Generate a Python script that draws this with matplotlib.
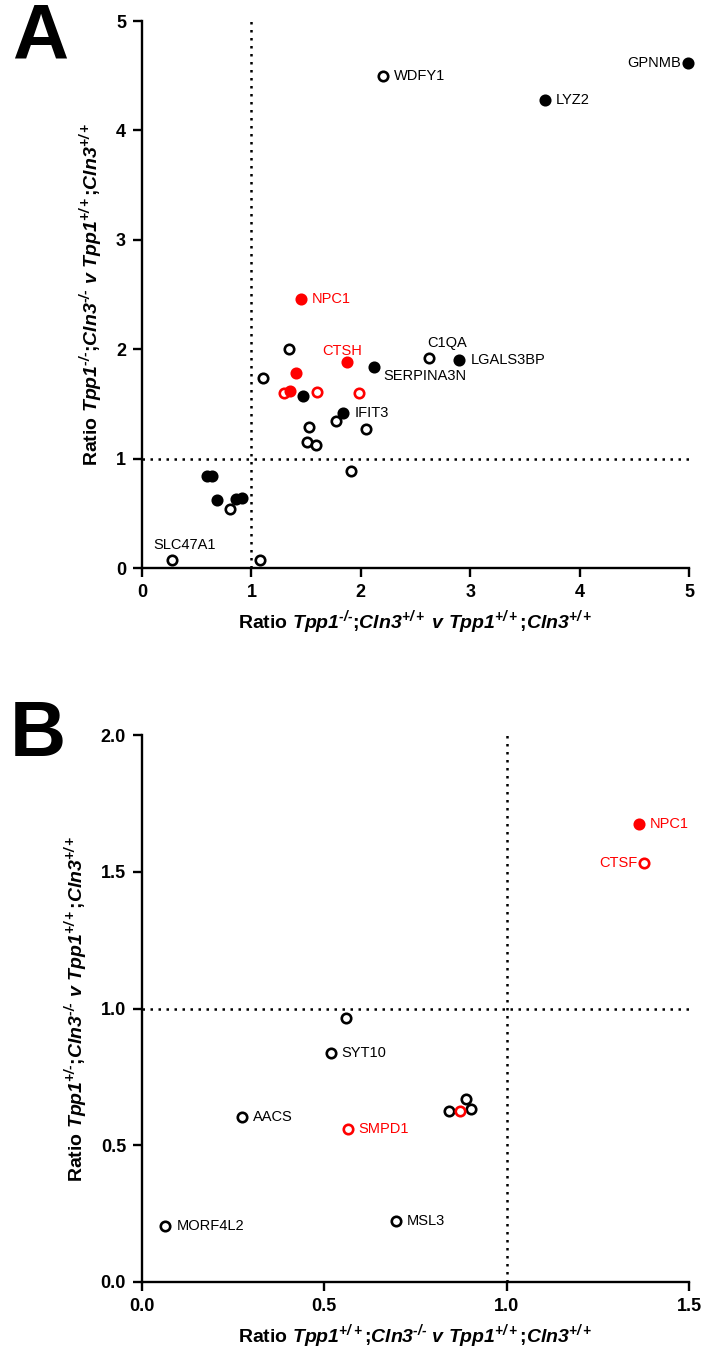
import numpy as np
import matplotlib
matplotlib.use('Agg')
import matplotlib.pyplot as plt

plt.rcParams['font.family'] = ['Liberation Sans', 'DejaVu Sans']
plt.rcParams['mathtext.fontset'] = 'custom'
plt.rcParams['mathtext.rm'] = 'Liberation Sans:italic:bold'
plt.rcParams['mathtext.it'] = 'Liberation Sans:italic:bold'
plt.rcParams['mathtext.bf'] = 'Liberation Sans:italic:bold'

# ---------------- panel A data ----------------
a_x = [4.99, 3.68, 2.20, 1.45, 1.87, 2.12, 2.62, 2.90, 1.34, 1.11, 1.41, 1.30, 1.35, 1.47, 1.60, 1.98,
       1.84, 1.77, 1.53, 2.05, 1.51, 1.59, 1.91, 0.59, 0.64, 0.69, 0.80, 0.86, 0.91, 0.27, 1.08]
a_y = [4.62, 4.28, 4.50, 2.46, 1.88, 1.84, 1.92, 1.90, 2.00, 1.74, 1.78, 1.60, 1.62, 1.57, 1.61, 1.60,
       1.42, 1.34, 1.29, 1.27, 1.15, 1.12, 0.89, 0.84, 0.84, 0.62, 0.54, 0.63, 0.64, 0.07, 0.07]
a_filled = [1, 1, 0, 1, 1, 1, 0, 1, 0, 0, 1, 0, 1, 1, 0, 0,
            1, 0, 0, 0, 0, 0, 0, 1, 1, 1, 0, 1, 1, 0, 0]
a_red = [0, 0, 0, 1, 1, 0, 0, 0, 0, 0, 1, 1, 1, 0, 1, 1,
         0, 0, 0, 0, 0, 0, 0, 0, 0, 0, 0, 0, 0, 0, 0]
a_labels = {0: 'GPNMB', 1: 'LYZ2', 2: 'WDFY1', 3: 'NPC1', 4: 'CTSH', 5: 'SERPINA3N',
            6: 'C1QA', 7: 'LGALS3BP', 16: 'IFIT3', 29: 'SLC47A1'}
# label placement: (dx, dy in points, ha)
a_lpos = {0: (-5, 0, 'right'), 1: (8, 0, 'left'), 2: (8, 0, 'left'), 3: (8, 0, 'left'),
          4: (-3.5, 8, 'center'), 5: (7, -7, 'left'), 6: (13, 11, 'center'), 7: (8, 0, 'left'),
          16: (8, 0, 'left'), 29: (9.5, 11, 'center')}

# ---------------- panel B data ----------------
b_x = [1.363, 1.377, 0.559, 0.517, 0.273, 0.564, 0.064, 0.696, 0.841, 0.888, 0.902, 0.872]
b_y = [1.675, 1.532, 0.965, 0.837, 0.603, 0.559, 0.205, 0.223, 0.625, 0.669, 0.633, 0.625]
b_filled = [1, 0, 0, 0, 0, 0, 0, 0, 0, 0, 0, 0]
b_red = [1, 1, 0, 0, 0, 1, 0, 0, 0, 0, 0, 1]
b_labels = {0: 'NPC1', 1: 'CTSF', 3: 'SYT10', 4: 'AACS', 5: 'SMPD1', 6: 'MORF4L2', 7: 'MSL3'}
b_lpos = {0: (8, 0, 'left'), 1: (-5, 0, 'right'), 3: (8, 0, 'left'), 4: (8, 0, 'left'),
          5: (8, 0, 'left'), 6: (8, 0, 'left'), 7: (8, 0, 'left')}

W, H = 707, 1359
fig = plt.figure(figsize=(W / 100, H / 100), dpi=100)

DOT = (0, (1, 2.2))


def style_axes(ax):
    for s in ['top', 'right']:
        ax.spines[s].set_visible(False)
    for s in ['left', 'bottom']:
        ax.spines[s].set_linewidth(1.7)
    ax.tick_params(direction='out', length=6.5, width=1.7, labelsize=13, pad=5)
    for lab in ax.get_xticklabels() + ax.get_yticklabels():
        lab.set_fontweight('bold')


def draw_points(ax, xs, ys, filled, red, labels, lpos):
    for i in range(len(xs)):
        c = 'red' if red[i] else 'black'
        ax.plot(xs[i], ys[i], 'o', ms=6.8, mec=c, mew=1.9,
                mfc=c if filled[i] else 'white', clip_on=False, zorder=3)
        if i in labels:
            dx, dy, ha = lpos[i]
            ax.annotate(labels[i], (xs[i], ys[i]), xytext=(dx, dy), textcoords='offset points',
                        ha=ha, va='center', fontsize=10.5, color=c)


HY = '\u2010'
lab_a_x = r'Ratio $Tpp1^{%s/%s}$;$Cln3^{+/+}$ $v$ $Tpp1^{+/+}$;$Cln3^{+/+}$' % (HY, HY)
lab_a_y = r'Ratio $Tpp1^{%s/%s}$;$Cln3^{%s/%s}$ $v$ $Tpp1^{+/+}$;$Cln3^{+/+}$' % (HY, HY, HY, HY)
lab_b_x = r'Ratio $Tpp1^{+/+}$;$Cln3^{%s/%s}$ $v$ $Tpp1^{+/+}$;$Cln3^{+/+}$' % (HY, HY)
lab_b_y = r'Ratio $Tpp1^{+/%s}$;$Cln3^{%s/%s}$ $v$ $Tpp1^{+/+}$;$Cln3^{+/+}$' % (HY, HY, HY)

# ---------------- A ----------------
axA = fig.add_axes([142 / W, 1 - 568 / H, 547 / W, 547 / H])
axA.set_xlim(0, 5)
axA.set_ylim(0, 5)
axA.set_xticks(range(6))
axA.set_yticks(range(6))
axA.axvline(1, color='black', lw=1.8, ls=DOT, zorder=1)
axA.axhline(1, color='black', lw=1.8, ls=DOT, zorder=1)
draw_points(axA, a_x, a_y, a_filled, a_red, a_labels, a_lpos)
style_axes(axA)
axA.set_xlabel(lab_a_x, fontsize=14, fontweight='bold', labelpad=5)
axA.set_ylabel(lab_a_y, fontsize=14, fontweight='bold', labelpad=8)

# ---------------- B ----------------
axB = fig.add_axes([142 / W, 1 - 1282 / H, 547 / W, 547 / H])
axB.set_xlim(0, 1.5)
axB.set_ylim(0, 2.0)
axB.set_xticks([0, 0.5, 1.0, 1.5])
axB.set_yticks([0, 0.5, 1.0, 1.5, 2.0])
axB.set_xticklabels(['0.0', '0.5', '1.0', '1.5'])
axB.set_yticklabels(['0.0', '0.5', '1.0', '1.5', '2.0'])
axB.axvline(1, color='black', lw=1.8, ls=DOT, zorder=1)
axB.axhline(1, color='black', lw=1.8, ls=DOT, zorder=1)
draw_points(axB, b_x, b_y, b_filled, b_red, b_labels, b_lpos)
style_axes(axB)
axB.set_xlabel(lab_b_x, fontsize=14, fontweight='bold', labelpad=5)
axB.set_ylabel(lab_b_y, fontsize=14, fontweight='bold', labelpad=8)

fig.text(12 / W, 1 - 38 / H, 'A', fontsize=56, fontweight='bold', va='center', ha='left')
fig.text(10 / W, 1 - 735 / H, 'B', fontsize=56, fontweight='bold', va='center', ha='left')

fig.savefig('out.png', dpi=100)
